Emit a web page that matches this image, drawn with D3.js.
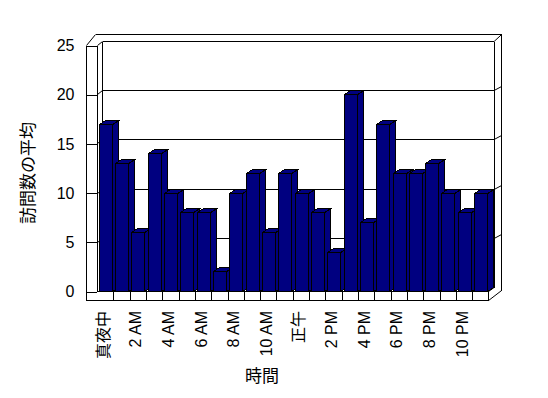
<html>
<head>
  <style>
    body { margin: 0; background: #fff; }
    svg text {
      font-family: "Liberation Sans", "Noto Sans CJK JP", sans-serif;
      font-size: 16px;
      fill: black;
    }
    svg .wall {
      stroke: black;
      stroke-width: 1px;
      fill: none;
      shape-rendering: crispEdges;
    }
    svg .bar {
      fill: #000080;
      stroke: black;
      stroke-width: 1px;
      shape-rendering: crispEdges;
    }
  </style>
</head>
<body>
  <div id="chart"></div>
  <script src="https://d3js.org/d3.v7.min.js"></script>
  <script>
    // data
    var hours = ["0","1","2","3","4","5","6","7","8","9","10","11",
                 "12","13","14","15","16","17","18","19","20","21","22","23"];
    var visits = [17, 13, 6, 14, 10, 8, 8, 2, 10, 12, 6, 12,
                  10, 8, 4, 20, 7, 17, 12, 12, 13, 10, 8, 10];
    var hourLabels = ["真夜中","2 AM","4 AM","6 AM","8 AM","10 AM",
                      "正午","2 PM","4 PM","6 PM","8 PM","10 PM"];
    var yTicks = [0, 5, 10, 15, 20, 25];
    var yTitle = "訪問数の平均";
    var xTitle = "時間";

    var
      width = 548,
      height = 398,
      wallX = 86.5,       // front edge of left wall
      floorFront = 300.5, // front edge of floor
      depthX = 5,         // offset from front plane to back wall
      depthY = -4,
      barDx = 5.5,        // bar 3d depth
      barDy = -3.7;

    var svg = d3.select("#chart")
      .append("svg")
        .attr("width", width)
        .attr("height", height);

    // scales
    var xScale = d3.scaleBand().domain(hours).range([97, 488.6]).padding(0);
    var yScale = d3.scaleLinear().domain([0, 25]).range([291, 45]);
    var yBack = d3.scaleLinear().domain([0, 25]).range([291 + depthY, 45 + depthY]);
    var x0 = xScale.range()[0], x1 = xScale.range()[1];
    var rightBack = x1 + depthX + 0.5;
    var outerR = rightBack + 7.5;

    var g = svg.append("g");

    // back wall gridlines + right wall slants
    yTicks.forEach(function (v) {
      g.append("line").classed("wall", true)
        .attr("x1", x0 + depthX + 0.5).attr("x2", rightBack)
        .attr("y1", Math.round(yBack(v)) + 0.5).attr("y2", Math.round(yBack(v)) + 0.5);
      if (v > 0 && v < 25) {
        g.append("line").classed("wall", true)
          .attr("x1", rightBack).attr("y1", Math.round(yBack(v)) + 0.5)
          .attr("x2", outerR).attr("y2", Math.round(yBack(v)) - 3.5)
          .style("shape-rendering", "auto");
      }
      // left wall slants from front to back
      if (v > 0) {
        g.append("line").classed("wall", true)
          .attr("x1", x0 + 0.5).attr("y1", Math.round(yScale(v)) + 0.5)
          .attr("x2", x0 + depthX + 0.5).attr("y2", Math.round(yBack(v)) + 0.5)
          .style("shape-rendering", "auto");
      }
    });

    // walls outline
    var topY = Math.round(yBack(25)) + 0.5;
    var outerTop = 34.5;
    g.append("line").classed("wall", true)   // back wall left edge
      .attr("x1", x0 + depthX + 0.5).attr("y1", topY)
      .attr("x2", x0 + depthX + 0.5).attr("y2", Math.round(yBack(0)) + 0.5);
    g.append("line").classed("wall", true)   // back wall right edge
      .attr("x1", rightBack).attr("y1", topY)
      .attr("x2", rightBack).attr("y2", Math.round(yBack(0)) + 0.5);
    g.append("line").classed("wall", true)   // outer right edge
      .attr("x1", outerR).attr("y1", outerTop)
      .attr("x2", outerR).attr("y2", 290.5);
    g.append("line").classed("wall", true)   // outer top edge
      .attr("x1", 95.5).attr("y1", outerTop)
      .attr("x2", outerR).attr("y2", outerTop);
    g.append("line").classed("wall", true)
      .attr("x1", rightBack).attr("y1", topY)
      .attr("x2", outerR).attr("y2", outerTop)
      .style("shape-rendering", "auto");
    g.append("line").classed("wall", true)
      .attr("x1", wallX).attr("y1", Math.round(yScale(25)) + 0.5)
      .attr("x2", 95.5).attr("y2", outerTop)
      .style("shape-rendering", "auto");
    g.append("line").classed("wall", true)   // left wall front edge
      .attr("x1", wallX).attr("y1", Math.round(yScale(25)) + 0.5)
      .attr("x2", wallX).attr("y2", floorFront);
    g.append("line").classed("wall", true)   // left wall inner edge
      .attr("x1", x0 + 0.5).attr("y1", Math.round(yScale(25)) + 0.5)
      .attr("x2", x0 + 0.5).attr("y2", 291.5);

    // floor
    g.append("line").classed("wall", true)
      .attr("x1", wallX).attr("y1", floorFront)
      .attr("x2", x1).attr("y2", floorFront);
    g.append("line").classed("wall", true)
      .attr("x1", x0).attr("y1", 291.5)
      .attr("x2", x1).attr("y2", 291.5);
    g.append("line").classed("wall", true)
      .attr("x1", x1).attr("y1", 291.5)
      .attr("x2", x1).attr("y2", floorFront);
    g.append("line").classed("wall", true)
      .attr("x1", x1).attr("y1", floorFront)
      .attr("x2", outerR).attr("y2", 290.5)
      .style("shape-rendering", "auto");
    g.append("line").classed("wall", true)
      .attr("x1", x1).attr("y1", 291.5)
      .attr("x2", rightBack).attr("y2", Math.round(yBack(0)) + 0.5)
      .style("shape-rendering", "auto");

    // category ticks on floor edge
    g.selectAll("line.ctick")
      .data(hours.slice(1))
      .enter().append("line")
        .attr("class", "wall ctick")
        .attr("x1", function (d) { return Math.round(xScale(d)) + 0.5; })
        .attr("x2", function (d) { return Math.round(xScale(d)) + 0.5; })
        .attr("y1", 291.5)
        .attr("y2", floorFront);

    // y axis on left wall front
    var yAxis = d3.axisLeft(yScale)
      .tickValues(yTicks)
      .tickSize(x0 - wallX)
      .tickPadding(12)
      .tickSizeOuter(0);

    var ya = g.append("g")
      .attr("transform", "translate(" + x0 + ",0.5)")
      .call(yAxis);
    ya.select(".domain").remove();
    ya.selectAll(".tick line").style("shape-rendering", "crispEdges");
    ya.selectAll(".tick text")
      .style("font-size", "16px")
      .style("font-family", "'Liberation Sans', sans-serif");

    // bars: side, top, front
    var bw = 13.4;
    var bars = g.selectAll("g.barg")
      .data(visits)
      .enter().append("g");

    bars.each(function (v, i) {
      var bx = Math.round(xScale(hours[i]) + 1.8) + 0.5;
      var by = Math.round(yScale(v)) + 0.5;
      var base = 291.5;
      var b = d3.select(this);
      b.append("polygon").classed("bar", true)
        .attr("points", [
          [bx + bw, by], [bx + bw + barDx, by + barDy],
          [bx + bw + barDx, base + barDy], [bx + bw, base]
        ].join(" "));
      b.append("polygon").classed("bar", true)
        .attr("points", [
          [bx, by], [bx + barDx, by + barDy],
          [bx + bw + barDx, by + barDy], [bx + bw, by]
        ].join(" "));
      b.append("rect").classed("bar", true)
        .attr("x", bx).attr("y", by)
        .attr("width", bw).attr("height", base - by);
    });

    // x labels, every 2 hours, rotated
    g.selectAll("text.xl")
      .data(hourLabels)
      .enter().append("text")
        .attr("class", "xl")
        .attr("transform", function (d, i) {
          var cx = xScale(hours[i * 2]) + xScale.bandwidth() / 2 - 2;
          return "translate(" + cx + ",311) rotate(-90)";
        })
        .attr("text-anchor", "end")
        .attr("dominant-baseline", "central")
        .style("font-size", "16px")
        .text(function (d) { return d; });

    // axis titles
    svg.append("text")
      .attr("transform", "translate(28,173) rotate(-90)")
      .attr("text-anchor", "middle")
      .attr("dominant-baseline", "central")
      .style("font-size", "17px")
      .text(yTitle);

    svg.append("text")
      .attr("x", 262)
      .attr("y", 376)
      .attr("text-anchor", "middle")
      .attr("dominant-baseline", "central")
      .style("font-size", "17px")
      .text(xTitle);
  </script>
</body>
</html>
